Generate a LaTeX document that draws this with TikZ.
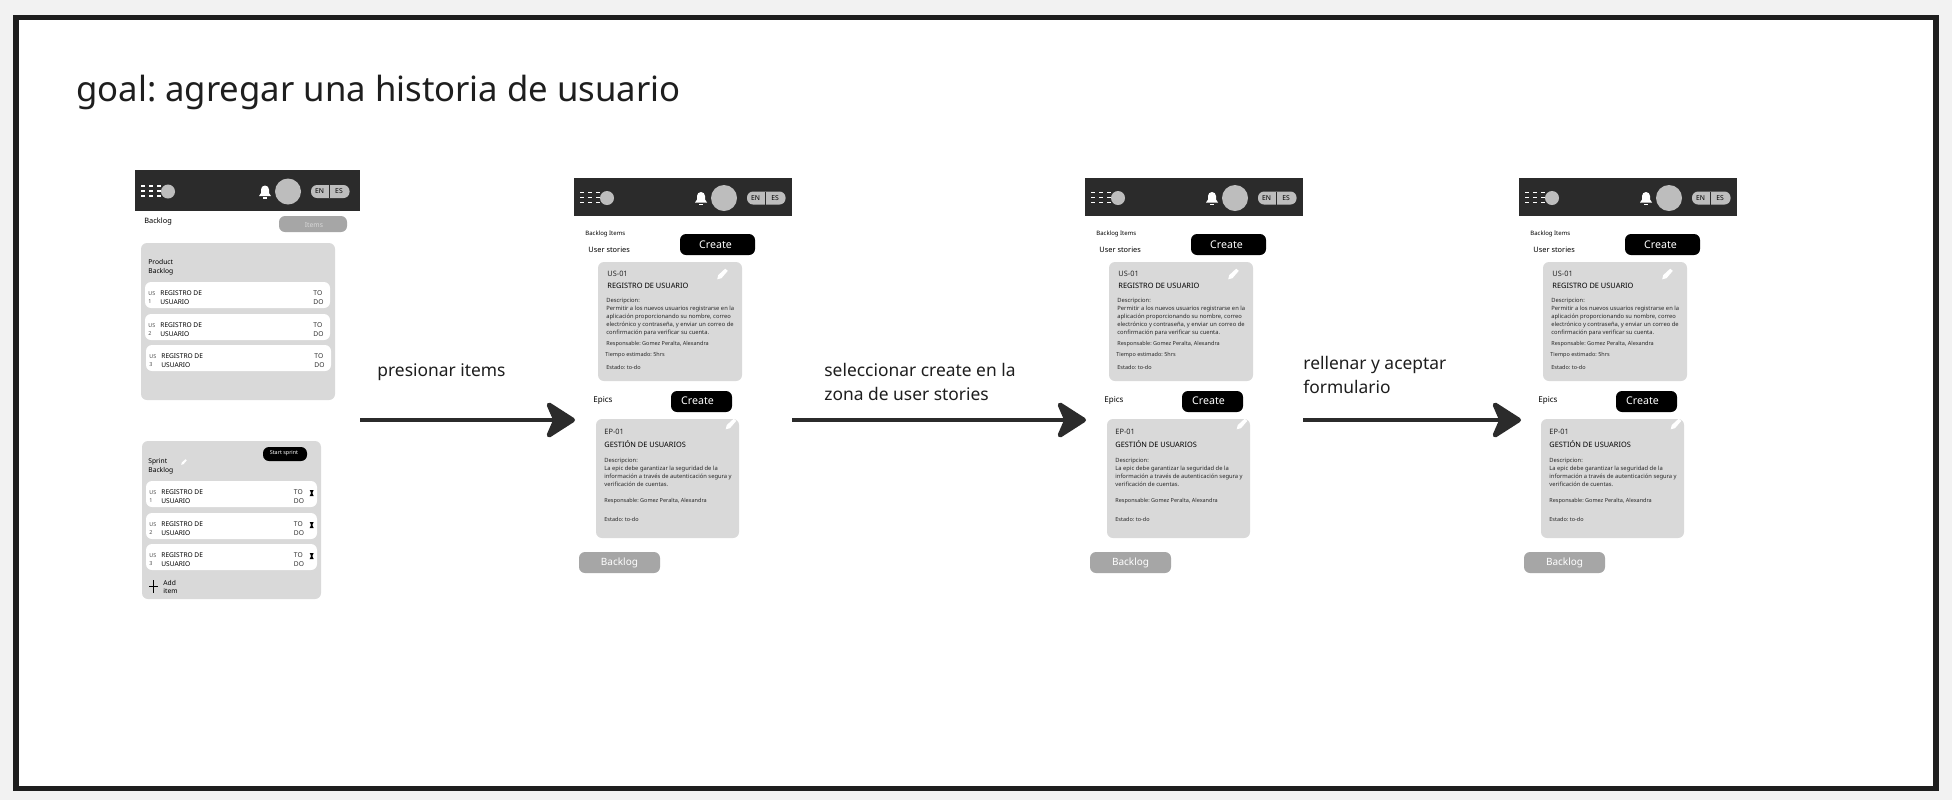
\documentclass[tikz,border=0pt]{standalone}
\usepackage{fontspec}
\setmainfont{Noto Sans}
\usetikzlibrary{arrows.meta}
\frenchspacing

\definecolor{framedark}{HTML}{1E1E1E}
\definecolor{pagegray}{HTML}{F2F2F2}
\definecolor{bardark}{HTML}{2B2B2B}
\definecolor{cardgray}{HTML}{D9D9D9}
\definecolor{midgray}{HTML}{BDBDBD}
\definecolor{btngray}{HTML}{A6A6A6}

\tikzset{
  txt/.style={anchor=west,inner sep=0pt,align=left,text=black,font=\fontsize{#1}{#1}\selectfont},
  txt/.default=3,
  rowtxt/.style={anchor=west,inner sep=0pt,align=left,text=black,font=\fontsize{3.35}{4.35}\selectfont},
  rowname/.style={anchor=west,inner sep=0pt,align=left,text=black,font=\fontsize{3.3}{4.35}\selectfont\bfseries},
  cardtxt/.style={anchor=west,inner sep=0pt,align=left,text=black!85,font=\fontsize{2.75}{4.1}\selectfont},
  cardname/.style={anchor=west,inner sep=0pt,align=left,text=black,font=\fontsize{3.7}{4}\selectfont\bfseries},
  desctxt/.style={anchor=west,inner sep=0pt,align=left,text=black!85,font=\fontsize{2.9}{4.1}\selectfont},
  steplabel/.style={anchor=west,inner sep=0pt,align=left,text=framedark,font=\fontsize{8.7}{12}\selectfont},
  btntxt/.style={inner sep=0pt,text=white,font=\fontsize{#1}{#1}\selectfont},
  flow/.style={line width=2.4pt,draw=bardark,-{Stealth[length=16.5pt,width=21pt,inset=4.5pt,round]}},
}

% top bar, #1 prefix, #2 left, #3 right, #4 top, #5 bottom, #6 shift of the right group
\newcommand{\topbar}[6]{
  \fill[bardark] (#2,#4) rectangle (#3,#5);
  \pgfmathsetmacro{\ymid}{(#4+#5)/2+1}
  \foreach \r in {-5.5,-0.5,4.5}
    \foreach \c in {7.5,15.5,23.5}
      \fill[white] ({#2+\c-2},{\ymid+\r-0.9}) rectangle ({#2+\c+2},{\ymid+\r+0.9});
  \fill[midgray] ({#2+33},\ymid) circle (7);
  \pgfmathsetmacro{\bx}{#2+130+#6}
  \fill[white] ({\bx-6},{\ymid+4.5}) -- ({\bx-4},{\ymid+1.5}) -- ({\bx-4},{\ymid-2})
    arc[start angle=180,end angle=360,radius=4] -- ({\bx+4},{\ymid+1.5}) -- ({\bx+6},{\ymid+4.5}) -- cycle;
  \fill[white] ({\bx-2},{\ymid+5.5}) rectangle ({\bx+2},{\ymid+7});
  \fill[midgray] ({#2+153+#6},\ymid) circle (13);
  \fill[midgray,rounded corners=3pt] ({#2+176+#6},{\ymid-6.5}) rectangle ({#2+214.5+#6},{\ymid+6.5});
  \fill[bardark] ({#2+193.5+#6},{\ymid-6.5}) rectangle ({#2+195+#6},{\ymid+6.5});
  \node[btntxt=3.4,text=black] (#1en) at ({#2+184.5+#6},\ymid) {EN};
  \node[btntxt=3.4,text=black] (#1es) at ({#2+204+#6},\ymid) {ES};
}

% pencil at #1,#2 with half size #3
\newcommand{\pencil}[3]{
  \fill[white] ({#1-#3},{#2+#3}) -- ({#1-0.8*#3},{#2+0.2*#3}) -- ({#1+0.5*#3},{#2-#3}) -- ({#1+#3},{#2-0.6*#3}) -- ({#1-0.2*#3},{#2+0.8*#3}) -- cycle;
}

% row of a backlog list, #1 name, #2 top, #3 left, #4 right, #5 number
\newcommand{\usrow}[5]{
  \fill[white,rounded corners=3pt] (#3,#2) rectangle (#4,{#2+26});
  \node[rowtxt,font=\fontsize{2.7}{4.35}\selectfont,text=black!70] (#1id) at ({#3+3},{#2+15.5}) {US\\#5};
  \node[rowname] (#1name) at ({#3+15},{#2+15.5}) {REGISTRO DE\\USUARIO};
}

\begin{document}
\begin{tikzpicture}[x=0.5pt,y=-0.5pt]
\useasboundingbox (0,0) rectangle (1952,800);
\fill[pagegray] (0,0) rectangle (1952,800);
\draw[framedark,line width=2.75pt,fill=white] (16,17.5) rectangle (1936,788.5);

\node[anchor=west,inner sep=0pt,text=framedark,font=\fontsize{17.35}{20}\selectfont] (title) at (76,92) {goal: agregar una historia de usuario};

% backlog screen
\topbar{b}{135}{360}{170}{211}{0}
\node[txt=3.7] (backlog) at (144,222) {Backlog};
\fill[btngray,rounded corners=3pt] (279,216) rectangle (347,232);
\node[btntxt=3.4,text=white!85!black] (items) at (314,225) {Items};

\fill[cardgray,rounded corners=3pt] (141,243) rectangle (335,400);
\node[rowtxt] (product) at (148,267.5) {Product\\Backlog};
\usrow{pa}{282}{145}{330}{1}
\usrow{pb}{314}{145}{330}{2}
\usrow{pc}{345}{146}{331}{3}
\node[rowtxt,text=black!80] (pato) at (313,297.5) {TO\\DO};
\node[rowtxt,text=black!80] (pbto) at (313,329.5) {TO\\DO};
\node[rowtxt,text=black!80] (pcto) at (314,360.5) {TO\\DO};

\fill[cardgray,rounded corners=3pt] (142,441) rectangle (321,599);
\fill[black,rounded corners=3pt] (263,447) rectangle (307,461);
\node[btntxt=2.7] (start) at (284,453) {Start sprint};
\node[rowtxt] (sprint) at (148,466) {Sprint\\Backlog};
\pencil{184}{462}{2.8}
\usrow{sa}{481}{146}{317}{1}
\usrow{sb}{513}{146}{317}{2}
\usrow{sc}{544}{146}{317}{3}
\foreach \n/\y in {a/496.5,b/528.5,c/559.5}{
  \node[rowtxt,text=black!80] (s\n to) at (293.5,\y) {TO\\DO};
  \fill[black] (309.7,{\y-6.5}) -- (313.7,{\y-6.5}) -- (312.3,{\y-3.5}) -- (313.7,{\y-0.5}) -- (309.7,{\y-0.5}) -- (311.1,{\y-3.5}) -- cycle;
}
\draw[black,line width=0.5pt] (149,586.5) -- (158,586.5) (153.5,580) -- (153.5,593);
\node[rowtxt] (additem) at (163,587) {Add\\item};

% items screens
\foreach \n/\s in {a/0,b/511,c/945}{
\begin{scope}[xshift=\s*0.5pt]
  \topbar{\n}{574}{792}{178}{216}{-3}
  \node[txt=3] (\n items) at (585,234) {Backlog Items};
  \node[txt=3.7] (\n stories) at (588,250) {User stories};
  \fill[black,rounded corners=3pt] (680,234) rectangle (755,255);
  \node[btntxt=5.3] (\n create) at (715.5,245) {Create};
  \fill[cardgray,rounded corners=3pt] (598,262) rectangle (742,381);
  \pencil{722.5}{274}{5.3}
  \node[cardtxt,font=\fontsize{3.7}{4}\selectfont] (\n usid) at (607,274) {US-01};
  \node[cardname] (\n usname) at (607,286) {REGISTRO DE USUARIO};
  \node[desctxt] (\n usdesc) at (606,317) {Descripcion:\\Permitir a los nuevos usuarios registrarse en la\\aplicación proporcionando su nombre, correo\\electrónico y contraseña, y enviar un correo de\\confirmación para verificar su cuenta.};
  \node[cardtxt] (\n usresp) at (606,344) {Responsable: Gomez Peralta, Alexandra};
  \node[cardtxt] (\n ustime) at (605,355) {Tiempo estimado: 5hrs};
  \node[cardtxt] (\n usstate) at (606,367) {Estado: to-do};

  \node[txt=4] (\n epics) at (593,400) {Epics};
  \fill[black,rounded corners=3pt] (671,391) rectangle (732,412);
  \node[btntxt=5.3] (\n epcreate) at (697.5,401) {Create};
  \fill[cardgray,rounded corners=3pt] (596,419) rectangle (739,538);
  \pencil{731}{424}{5.3}
  \node[cardtxt,font=\fontsize{3.7}{4}\selectfont] (\n epid) at (604,432) {EP-01};
  \node[cardname] (\n epname) at (604,444) {GESTIÓN DE USUARIOS};
  \node[desctxt] (\n epdesc) at (604,472.5) {Descripcion:\\La epic debe garantizar la seguridad de la\\información a través de autenticación segura y\\verificación de cuentas.};
  \node[cardtxt] (\n epresp) at (604,501) {Responsable: Gomez Peralta, Alexandra};
  \node[cardtxt] (\n epstate) at (604,519) {Estado: to-do};

  \fill[btngray,rounded corners=3pt] (579,552) rectangle (660,573);
  \node[btntxt=5] (\n backlog) at (619.5,563) {Backlog};
\end{scope}
}

% arrows
\coordinate (froma) at (360,420);
\coordinate (toa) at (575,420);
\coordinate (fromb) at (792,420);
\coordinate (tob) at (1086,420);
\coordinate (fromc) at (1303,420);
\coordinate (toc) at (1521,420);
\draw[flow] (froma) -- (toa);
\draw[flow] (fromb) -- (tob);
\draw[flow] (fromc) -- (toc);

\node[steplabel] (lbla) at (377,372) {presionar items};
\node[steplabel] (lblb) at (824,382) {seleccionar create en la\\zona de user stories};
\node[steplabel] (lblc) at (1303,375) {rellenar y aceptar\\formulario};
\end{tikzpicture}
\end{document}
